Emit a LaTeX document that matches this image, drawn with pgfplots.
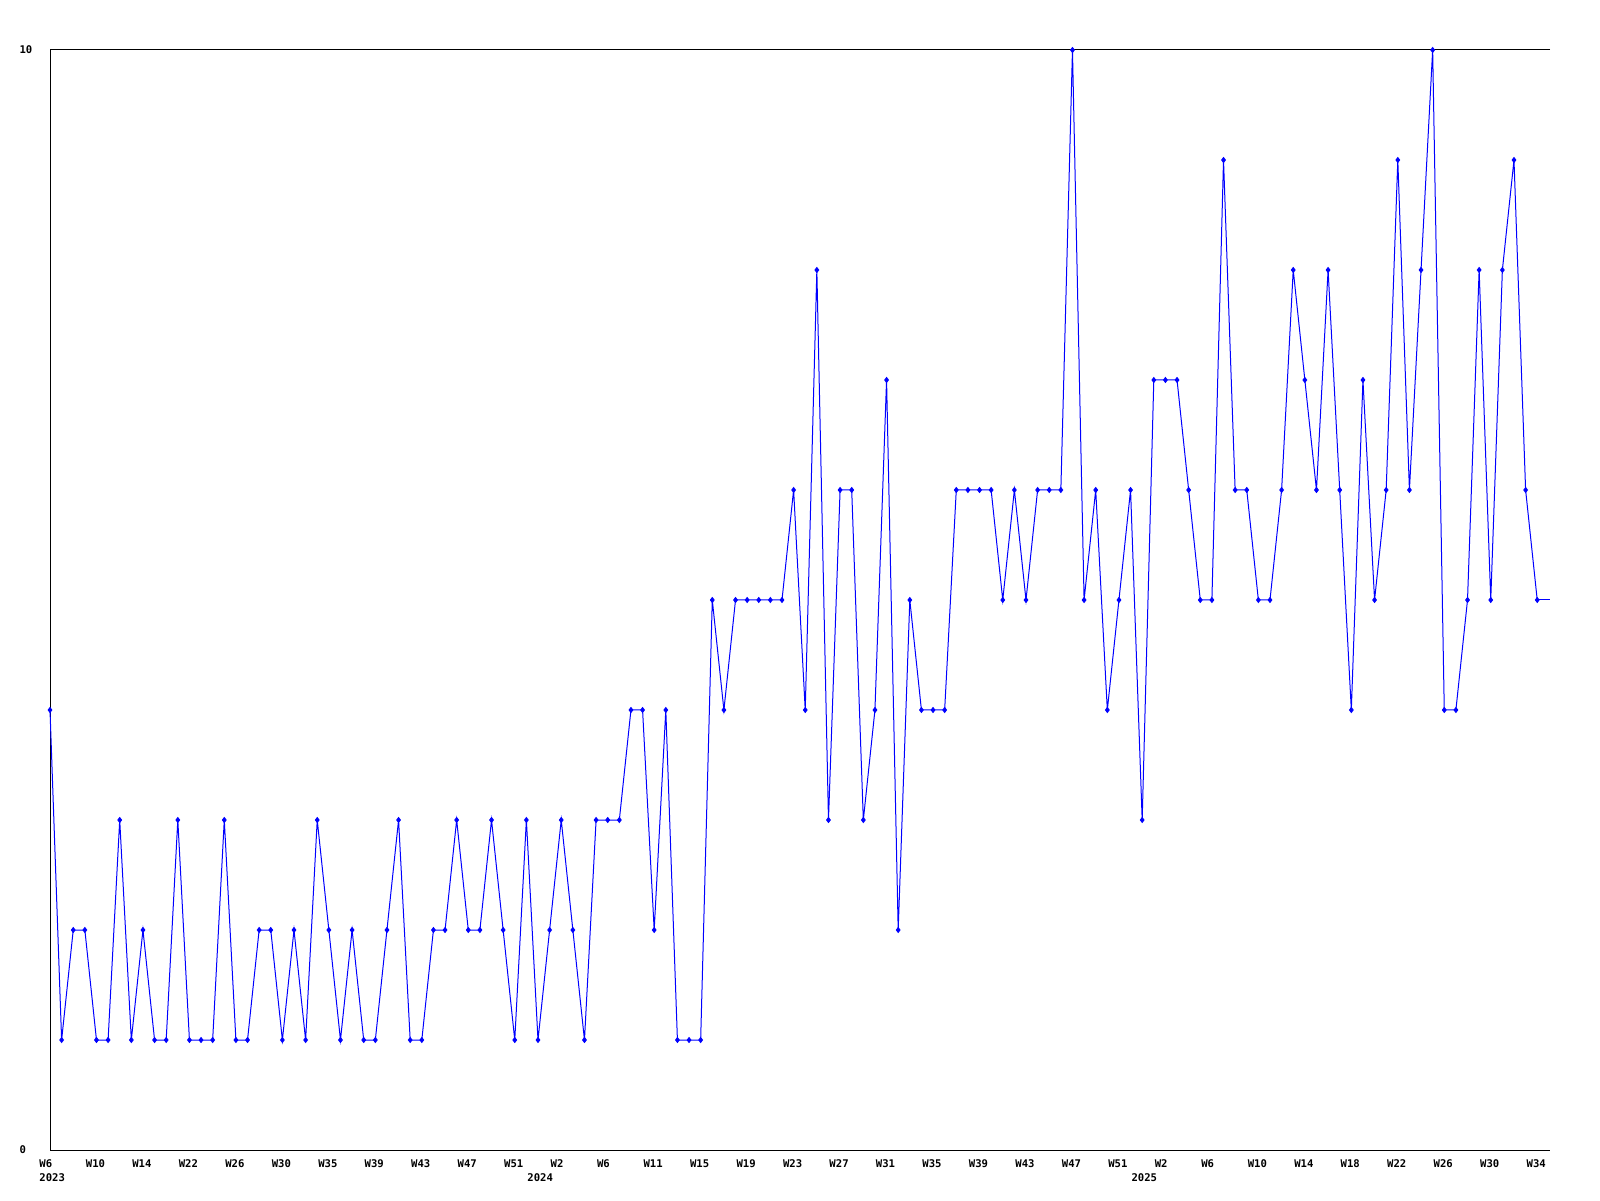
\documentclass[border=0pt]{standalone}
\usepackage{pgfplots}
\pgfplotsset{compat=1.18}
\usepackage{pgfplotstable}
\usepackage{fontspec}
\setmainfont{DejaVu Sans Mono}
\definecolor{lineblue}{RGB}{0,0,255}
\pgfplotstableread{
x y
0 4
1 1
2 2
3 2
4 1
5 1
6 3
7 1
8 2
9 1
10 1
11 3
12 1
13 1
14 1
15 3
16 1
17 1
18 2
19 2
20 1
21 2
22 1
23 3
24 2
25 1
26 2
27 1
28 1
29 2
30 3
31 1
32 1
33 2
34 2
35 3
36 2
37 2
38 3
39 2
40 1
41 3
42 1
43 2
44 3
45 2
46 1
47 3
48 3
49 3
50 4
51 4
52 2
53 4
54 1
55 1
56 1
57 5
58 4
59 5
60 5
61 5
62 5
63 5
64 6
65 4
66 8
67 3
68 6
69 6
70 3
71 4
72 7
73 2
74 5
75 4
76 4
77 4
78 6
79 6
80 6
81 6
82 5
83 6
84 5
85 6
86 6
87 6
88 10
89 5
90 6
91 4
92 5
93 6
94 3
95 7
96 7
97 7
98 6
99 5
100 5
101 9
102 6
103 6
104 5
105 5
106 6
107 8
108 7
109 6
110 8
111 6
112 4
113 7
114 5
115 6
116 9
117 6
118 8
119 10
120 4
121 4
122 5
123 8
124 5
125 8
126 9
127 6
128 5
}\datatable
\begin{document}
\begin{tikzpicture}
\begin{axis}[
  scale only axis,
  width=750pt, height=550pt,
  xmin=0, xmax=129.1,
  ymin=0, ymax=10,
  clip=false,
  axis line style={draw=none},
  major tick length=0pt,
  xtick={0,4,...,128},
  xticklabels={W6,W10,W14,W22,W26,W30,W35,W39,W43,W47,W51,W2,W6,W11,W15,W19,W23,W27,W31,W35,W39,W43,W47,W51,W2,W6,W10,W14,W18,W22,W26,W30,W34},
  extra x ticks={0,42,94},
  extra x tick labels={2023,2024,2025},
  extra x tick style={xticklabel style={yshift=-7pt}},
  ytick={0,10},
  yticklabels={0,10},
  /pgf/number format/assume math mode=true,
  xticklabel style={font=\fontsize{5.3}{6}\selectfont\bfseries, anchor=north west, inner sep=0pt, xshift=-5.5pt, yshift=-4.5pt},
  yticklabel style={font=\fontsize{5.3}{6}\selectfont\bfseries, anchor=west, inner sep=0pt, xshift=-15.4pt},
]
\draw[black, line width=0.5pt] (rel axis cs:1,1) -- (rel axis cs:0,1) -- (rel axis cs:0,0) -- (rel axis cs:1,0);
\addplot[lineblue, line width=0.5pt, mark=diamond*, mark size=1.2pt, mark options={solid, fill=lineblue}] table[x=x, y=y] {\datatable};
\addplot[lineblue, line width=0.5pt, no marks] coordinates {(128,5) (129.1,5)};
\end{axis}
\pgfresetboundingbox
\useasboundingbox (current axis.south west) ++(-25pt,-25pt) rectangle ++(800pt,600pt);
\end{tikzpicture}
\end{document}
